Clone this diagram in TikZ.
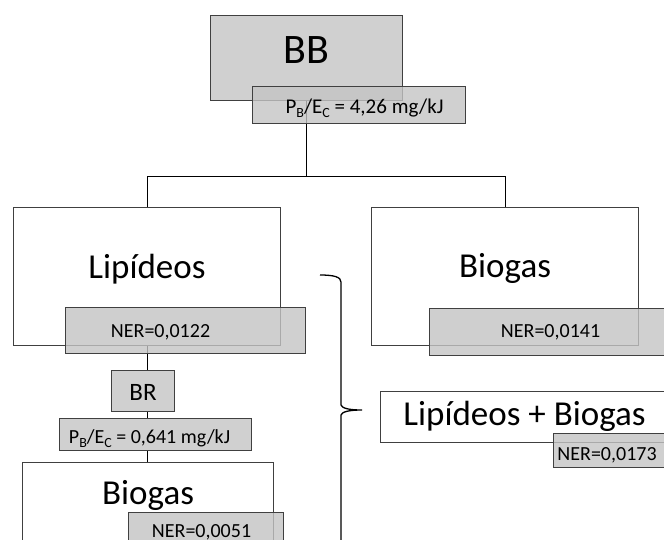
\documentclass[tikz,border=0pt]{standalone}
\usepackage{fontspec}
\setmainfont{Carlito}
\usepackage{tikz}
\usetikzlibrary{backgrounds}
\definecolor{boxgray}{RGB}{208,208,208}
\definecolor{tagfill}{RGB}{196,196,196}
\definecolor{edgegray}{RGB}{64,64,64}
\newcommand{\lowsub}[1]{\raisebox{-4pt}{\fontsize{14}{14}\selectfont #1}}

\begin{document}
\begin{tikzpicture}[x=1pt,y=-1pt,
  box/.style={draw=edgegray,line width=1.1pt,fill=white,inner sep=0pt,anchor=north west},
  greybox/.style={box,fill=boxgray},
  tag/.style={box,fill=tagfill,fill opacity=0.8,text opacity=1,font=\fontsize{20}{24}\selectfont},
  big/.style={font=\fontsize{35}{42}\selectfont},
  link/.style={black,line width=1.1pt}]
  \useasboundingbox (0,0) rectangle (664,539);
  \clip (0,0) rectangle (664,539);
  % Top: BB
  \node[greybox,minimum width=192,minimum height=85,text height=30pt,text depth=19pt,
    font=\fontsize{42}{50}\selectfont] (bb) at (210,15) {BB};
  \node[tag,minimum width=213,minimum height=37,text height=18pt,text depth=1pt,
    font=\fontsize{21}{25}\selectfont] (pbbb) at (252,86)
    {\hspace*{11pt}P\lowsub{B}/E\lowsub{C} = 4,26 mg/kJ};
  % Lipideos and Biogas
  \node[box,big,minimum width=267,minimum height=138,text height=28pt,text depth=24pt] (lip) at (13,207) {Lipídeos};
  \node[box,big,minimum width=267,minimum height=138,text height=28pt,text depth=26pt] (bio) at (371,207) {Biogas};
  \node[tag,minimum width=240,minimum height=46,text height=15pt,text depth=1pt] (nerlip) at (65,307) {NER=0,0122\hspace*{50pt}};
  \node[tag,minimum width=242,minimum height=47,text height=14pt,text depth=3pt] (nerbio) at (429,308) {NER=0,0141};
  % BR branch
  \node[greybox,minimum width=63,minimum height=41,text height=19pt,text depth=0pt,
    font=\fontsize{25}{30}\selectfont] (br) at (111,370) {BR};
  \node[greybox,minimum width=192,minimum height=32,text height=18pt,text depth=0pt,
    font=\fontsize{20}{24}\selectfont] (pbbr) at (59,418)
    {P\lowsub{B}/E\lowsub{C} = 0,641 mg/kJ\hspace*{12pt}};
  \node[box,big,minimum width=251,minimum height=138,text height=10pt,text depth=64pt] (biobr) at (22,462) {Biogas};
  \node[tag,minimum width=155,minimum height=46,text height=16pt,text depth=12pt] (nerbr) at (128,512) {NER=0,0051\hspace*{9pt}};
  % Lipideos + Biogas
  \node[box,big,minimum width=288,minimum height=51,text height=28pt,text depth=11pt] (lipbio) at (380,391) {Lipídeos + Biogas};
  \node[tag,minimum width=127,minimum height=34,text height=20pt,text depth=0pt] (nerlipbio) at (553,433) {NER=0,0173\hspace*{20pt}};
  % Connectors
  \begin{scope}[on background layer]
    \path (bb.south) ++(0,75) coordinate (split);
    \draw[link] (bb.south) -- (split) -| (lip.north);
    \draw[link] (split) -| (bio.north);
    \draw[link] (lip.south) -- (lip.south |- biobr.north);
  \end{scope}
  % Brace
  \coordinate (bracetop) at (320,275);
  \coordinate (bracetip) at (362,410);
  \draw[line width=1.3pt] (bracetop) .. controls (334,275) and (341,277) .. (341,282)
    -- (341,405) .. controls (342,408) and (348,410) .. (bracetip)
    .. controls (348,410) and (342,412) .. (341,415) -- (341,545);
\end{tikzpicture}
\end{document}
